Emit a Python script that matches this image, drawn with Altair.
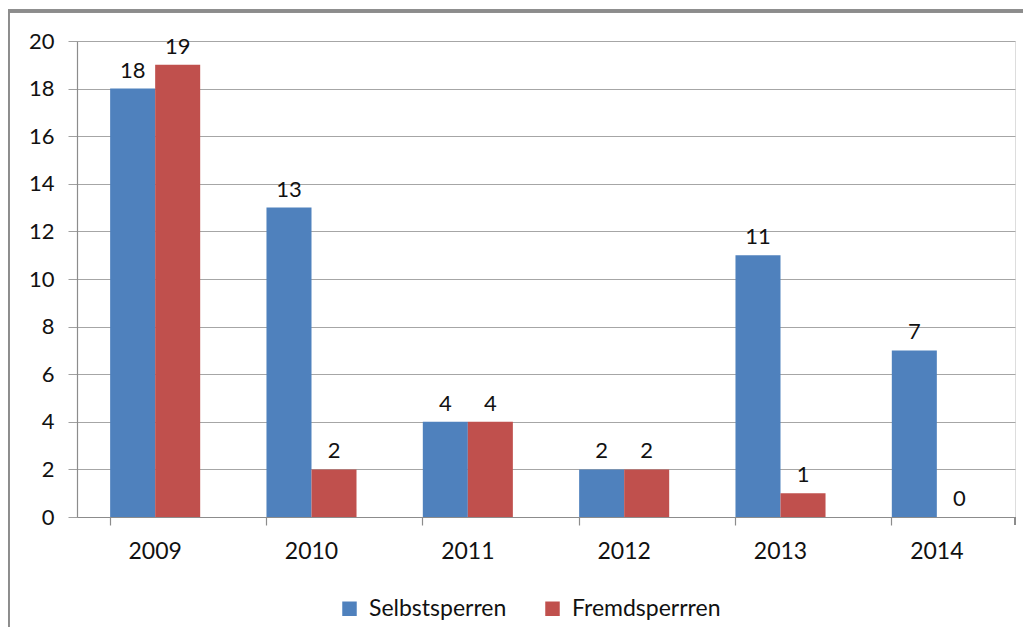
import altair as alt
import pandas as pd

years = ["2009", "2010", "2011", "2012", "2013", "2014"]
selbst = [18, 13, 4, 2, 11, 7]
fremd = [19, 2, 4, 2, 1, 0]
series = ["Selbstsperren", "Fremdsperrren"]
colors = ["#4F81BD", "#C0504D"]
y_ticks = list(range(0, 21, 2))

rows = []
for i, y in enumerate(years):
    rows.append({"year": y, "series": series[0], "value": selbst[i]})
    rows.append({"year": y, "series": series[1], "value": fremd[i]})
df = pd.DataFrame(rows)

FONT = "Lato"
TXT = "#111111"
W, H = 938, 476

x_enc = alt.X("year:N", sort=years, title=None,
              scale=alt.Scale(paddingInner=0.424, paddingOuter=0.212),
              axis=alt.Axis(labelAngle=0, labelFontSize=23, labelFont=FONT, labelColor=TXT,
                            bandPosition=0, tickSize=8, tickColor="#8c8c8c", domainColor="#8c8c8c",
                            labelPadding=15, grid=False, tickWidth=1.2, domainWidth=1.2))
xo = alt.XOffset("series:N", sort=series, scale=alt.Scale(paddingInner=0, paddingOuter=0))
y_enc = alt.Y("value:Q", title=None,
              scale=alt.Scale(domain=[0, 20], nice=False),
              axis=alt.Axis(values=y_ticks, labelFontSize=22, labelFont=FONT, labelColor=TXT,
                            tickSize=9, tickColor="#a0a0a0", domainColor="#8c8c8c", domainWidth=1.2,
                            gridColor="#a6a6a6", gridWidth=1.2, labelPadding=14))
color_enc = alt.Color("series:N", sort=series, scale=alt.Scale(domain=series, range=colors),
                      legend=alt.Legend(title=None, orient="none", legendX=261, legendY=556,
                                        direction="horizontal", symbolType="square", symbolSize=210,
                                        symbolStrokeWidth=0, labelFontSize=23, labelFont=FONT,
                                        labelColor=TXT, columnPadding=34, labelOffset=8))

bars = alt.Chart(df).mark_bar().encode(x=x_enc, xOffset=xo, y=y_enc, color=color_enc)
labels = alt.Chart(df).mark_text(dy=-18, fontSize=22, font=FONT, color=TXT).encode(
    x=alt.X("year:N", sort=years), xOffset=xo, y="value:Q", text="value:Q")

end_tick = alt.Chart(df).mark_rule(color="#8c8c8c", strokeWidth=1.2).encode(
    x=alt.value(W), y=alt.value(H), y2=alt.value(H + 8))
frame_top = alt.Chart(df).mark_rule(color="#8c8c8c", strokeWidth=2.5).encode(
    x=alt.value(-69), x2=alt.value(W + 40), y=alt.value(-30))
frame_left = alt.Chart(df).mark_rule(color="#8c8c8c", strokeWidth=2.5).encode(
    x=alt.value(-69), y=alt.value(-30), y2=alt.value(H + 140))

chart = alt.layer(bars, labels, end_tick, frame_top, frame_left).properties(
    width=W, height=H,
    autosize=alt.AutoSizeParams(type="none"),
    padding={"left": 69, "top": 33, "right": 8, "bottom": 110},
).configure_view(stroke=None).configure(background="white")

chart.save("out.html", embed_options={"renderer": "svg", "actions": False})
